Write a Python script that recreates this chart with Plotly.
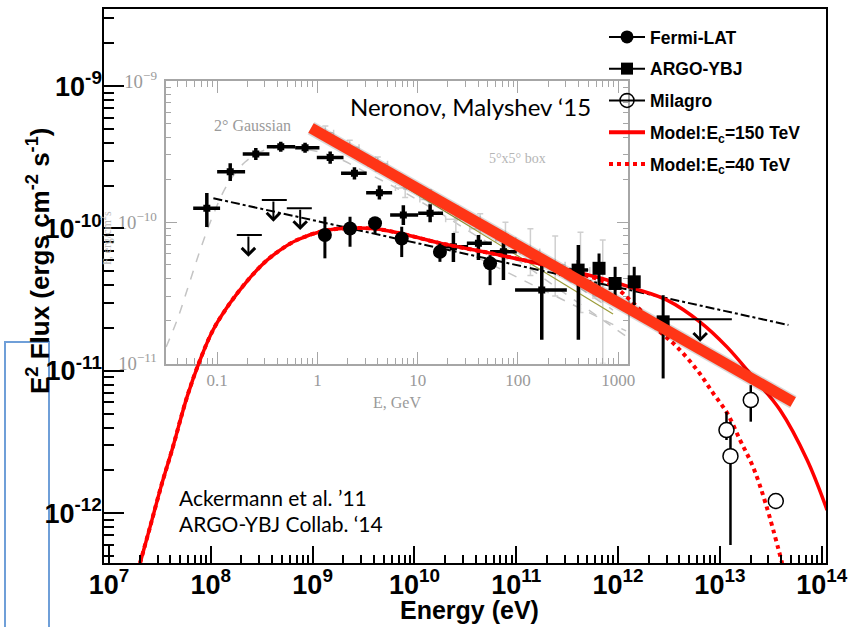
import plotly.graph_objects as go
import numpy as np

W, H = 854, 627

# ---------------- main-panel data (E in eV, E^2 F in erg cm^-2 s^-1) ----------------
fermi_E = [1.32e9, 2.33e9, 4.10e9, 7.5e9, 1.78e10, 5.53e10]
fermi_F = [9.0e-11, 1.0e-10, 1.09e-10, 8.5e-11, 6.85e-11, 5.69e-11]
fermi_Fhi = [1.21e-10, 1.21e-10, 1.20e-10, 1.03e-10, 7.85e-11, 6.5e-11]
fermi_Flo = [6.17e-11, 7.45e-11, 9.2e-11, 6.3e-11, 5.83e-11, 4.0e-11]

argo_E = [4.05e11, 6.5e11, 9.35e11, 1.44e12, 2.77e12]
argo_F = [5.1e-11, 5.25e-11, 4.11e-11, 4.22e-11, 2.21e-11]
argo_Fhi = [6.0e-11, 6.68e-11, 5.38e-11, 5.38e-11, 3.4e-11]
argo_Flo = [4.0e-11, 3.69e-11, 3.14e-11, 2.9e-11, 8.85e-12]

milagro_E = [1.16e13, 1.27e13, 2.01e13, 3.54e13]
milagro_F = [3.84e-12, 2.52e-12, 6.24e-12, 1.22e-12]
milagro_Fhi = [5.16e-12, 4.4e-12, 7.94e-12, 1.24e-12]
milagro_Flo = [3.27e-12, 5.98e-13, 4.4e-12, 1.09e-12]

ul_E = [6.4e12]
ul_F = [2.30e-11]
ul_Elo = [2.22e12]
ul_Ehi = [1.31e13]
ul_tip = [1.6e-11]

model150_E = [2.018e7, 2.529e7, 3.319e7, 4.159e7, 5.834e7, 7.834e7, 1.052e8, 1.545e8,
              2.317e8, 3.404e8, 4.786e8, 7.031e8, 1.265e9, 2.328e9, 4.295e9, 7.727e9,
              1.782e10, 5.534e10, 2.148e11, 6.653e11, 1.403e12, 3.027e12, 6.397e12,
              1.178e13, 2.118e13, 3.899e13, 7.194e13, 1.130e14]
model150_F = [4.467e-13, 8.0e-13, 1.629e-12, 2.780e-12, 6.546e-12, 1.191e-11, 1.936e-11,
              2.992e-11, 4.345e-11, 5.808e-11, 7.047e-11, 8.298e-11, 9.594e-11, 1.007e-10,
              9.908e-11, 9.141e-11, 7.889e-11, 6.714e-11, 5.445e-11, 4.487e-11, 3.811e-11,
              3.141e-11, 2.203e-11, 1.469e-11, 9.036e-12, 5.309e-12, 2.366e-12, 1.052e-12]

model40_E = [2.018e7, 2.529e7, 3.319e7, 4.159e7, 5.834e7, 7.834e7, 1.052e8, 1.545e8,
             2.317e8, 3.404e8, 4.786e8, 7.031e8, 1.265e9, 2.328e9, 4.295e9, 7.727e9,
             1.782e10, 5.534e10, 2.148e11, 6.653e11, 9.354e11, 1.312e12, 1.841e12,
             2.415e12, 3.802e12, 5.970e12, 8.570e12, 1.178e13, 1.578e13, 2.118e13,
             2.844e13, 4.083e13]
model40_F = [4.467e-13, 8.0e-13, 1.629e-12, 2.780e-12, 6.546e-12, 1.191e-11, 1.936e-11,
             2.992e-11, 4.345e-11, 5.808e-11, 7.047e-11, 8.298e-11, 9.594e-11, 1.007e-10,
             9.908e-11, 9.141e-11, 7.889e-11, 6.714e-11, 5.445e-11, 4.345e-11, 3.873e-11,
             3.141e-11, 2.466e-11, 1.968e-11, 1.469e-11, 1.014e-11, 6.982e-12, 5.058e-12,
             3.266e-12, 2.113e-12, 1.143e-12, 4.467e-13]

dashdot_E = [1.06e8, 4.71e13]
dashdot_F = [1.63e-10, 2.10e-11]

powerlaw_E = [9.64e8, 5.24e13]
powerlaw_F = [5.07e-10, 6.04e-12]

# tick labels of the main axes
x_tickvals = [1e7, 1e8, 1e9, 1e10, 1e11, 1e12, 1e13, 1e14]
x_ticktext = ["10<sup>7</sup>", "10<sup>8</sup>", "10<sup>9</sup>", "10<sup>10</sup>", "10<sup>11</sup>",
              "10<sup>12</sup>", "10<sup>13</sup>", "10<sup>14</sup>"]
y_tickvals = [1e-12, 1e-11, 1e-10, 1e-9]
y_ticktext = ["10<sup>-12</sup>", "10<sup>-11</sup>", "10<sup>-10</sup>", "10<sup>-9</sup>"]

# ---------------- inset data (E in GeV, F in erg/cm^2 s) ----------------
nm_E = [0.0789, 0.135, 0.243, 0.431, 0.753, 1.34, 2.34, 4.15, 7.19, 13.3, 22.7, 40.3, 71.6, 172.6, 400]
nm_F = [1.256e-10, 2.28e-10, 3.04e-10, 3.43e-10, 3.37e-10, 2.87e-10, 2.22e-10, 1.62e-10,
        1.125e-10, 1.156e-10, 6.71e-11, 7.1e-11, 6.19e-11, 3.31e-11, 4.59e-11]
nm_Elo = [0.0577, 0.100, 0.180, 0.313, 0.600, 0.986, 1.72, 3.06, 5.31, 10.1, 16.7, 30.9, 52.7, 93.5, 300]
nm_Ehi = [0.107, 0.190, 0.332, 0.600, 1.047, 1.82, 3.10, 5.56, 10.1, 17.9, 31.8, 54.8, 97.3, 307, 500]
nm_Fhi = [1.61e-10, 2.62e-10, 3.36e-10, 3.72e-10, 3.66e-10, 3.17e-10, 2.45e-10, 1.82e-10,
          1.32e-10, 1.34e-10, 8.39e-11, 8.13e-11, 7.13e-11, 4.98e-11, 6.9e-11]
nm_Flo = [9.25e-11, 1.96e-10, 2.76e-10, 3.15e-10, 3.10e-10, 2.60e-10, 2.01e-10, 1.45e-10,
          9.56e-11, 9.98e-11, 5.24e-11, 5.41e-11, 3.9e-11, 1.47e-11, 1.47e-11]

iul_E = [0.205, 0.364, 0.673]
iul_F = [8.13e-11, 1.436e-10, 1.256e-10]
iul_Elo = [0.157, 0.279, 0.495]
iul_Ehi = [0.279, 0.495, 0.879]
iul_tip = [5.7e-11, 1.01e-10, 8.81e-11]

box_pts_E = [1.2, 2.1, 4.0, 7.5, 13, 24, 42, 75, 133, 235, 420, 700]
box_pts_F = [4.3e-10, 3.4e-10, 2.6e-10, 1.75e-10, 1.45e-10, 1.05e-10, 9.0e-11, 7.5e-11, 6.2e-11, 5.0e-11, 4.6e-11, 3.0e-11]
box_pts_Fhi = [4.8e-10, 3.8e-10, 2.9e-10, 2.0e-10, 1.7e-10, 1.3e-10, 1.15e-10, 1.0e-10, 9.0e-11, 8.0e-11, 8.5e-11, 7.5e-11]
box_pts_Flo = [3.9e-10, 3.05e-10, 2.3e-10, 1.5e-10, 1.2e-10, 8.5e-11, 7.0e-11, 5.5e-11, 4.2e-11, 3.0e-11, 2.3e-11, 1.0e-11]
box_pts_Elo = [1.0, 1.7, 3.2, 6.0, 10.5, 19, 33, 60, 105, 185, 330, 560]
box_pts_Ehi = [1.45, 2.6, 5.0, 9.2, 16, 30, 52, 95, 165, 295, 520, 850]

gauss_E = [0.0310, 0.0399, 0.0502, 0.0678, 0.0912, 0.126, 0.190, 0.301, 0.477, 0.845,
           1.50, 2.99, 6.68, 16.7, 41.9, 105, 263, 659, 1253]
gauss_F = [1.31e-11, 2.03e-11, 3.31e-11, 6.37e-11, 1.125e-10, 1.84e-10, 2.67e-10, 3.25e-10,
           3.41e-10, 3.25e-10, 2.90e-10, 2.27e-10, 1.69e-10, 1.16e-10, 7.73e-11, 5.24e-11,
           3.31e-11, 2.10e-11, 1.52e-11]
box_model_E = [1.016, 6.68, 33.3, 166, 887]
box_model_F = [4.65e-10, 2.06e-10, 1.07e-10, 5.24e-11, 2.39e-11]
low_model_E = [38.2, 1197]
low_model_F = [5.68e-11, 1.70e-11]
fit_E = [0.948, 887]
fit_F = [4.35e-10, 2.24e-11]


def px_x(p):
    return p / W


def px_y(p):
    return 1 - p / H


def errs(v, hi, lo):
    v = np.array(v); hi = np.array(hi); lo = np.array(lo)
    return list(hi - v), list(v - lo)


fig = go.Figure()

SANS = "Liberation Sans"
SERIF = "Liberation Serif"
GRAY = "#a6a6a6"
GRAYTXT = "#9a9a9a"

# ---------------- inset traces (axes x / y, drawn first) ----------------
fig.add_trace(go.Scatter(x=gauss_E, y=gauss_F, mode="lines", line=dict(color="#c4c4c4", width=1.5, dash="dash"),
                         xaxis="x", yaxis="y", showlegend=False, line_shape="spline"))
fig.add_trace(go.Scatter(x=box_model_E, y=box_model_F, mode="lines", line=dict(color="#c4c4c4", width=1.5, dash="dash"),
                         xaxis="x", yaxis="y", showlegend=False))
fig.add_trace(go.Scatter(x=low_model_E, y=low_model_F, mode="lines", line=dict(color="#c4c4c4", width=1.5, dash="dash"),
                         xaxis="x", yaxis="y", showlegend=False))
ehi, elo = errs(box_pts_F, box_pts_Fhi, box_pts_Flo)
xhi, xlo = errs(box_pts_E, box_pts_Ehi, box_pts_Elo)
fig.add_trace(go.Scatter(x=box_pts_E, y=box_pts_F, mode="markers",
                         marker=dict(symbol="square", size=4, color="#cfcfcf"),
                         error_y=dict(type="data", array=ehi, arrayminus=elo, color="#cfcfcf", thickness=1.5, width=3),
                         error_x=dict(type="data", array=xhi, arrayminus=xlo, color="#cfcfcf", thickness=1.5, width=3),
                         xaxis="x", yaxis="y", showlegend=False))
fig.add_trace(go.Scatter(x=fit_E, y=fit_F, mode="lines", line=dict(color="#9c9c3a", width=1.2),
                         xaxis="x", yaxis="y", showlegend=False))
ehi, elo = errs(nm_F, nm_Fhi, nm_Flo)
xhi, xlo = errs(nm_E, nm_Ehi, nm_Elo)
fig.add_trace(go.Scatter(x=nm_E, y=nm_F, mode="markers",
                         marker=dict(symbol="square", size=7, color="black"),
                         error_y=dict(type="data", array=ehi, arrayminus=elo, color="black", thickness=3.5, width=0),
                         error_x=dict(type="data", array=xhi, arrayminus=xlo, color="black", thickness=3.5, width=0),
                         xaxis="x", yaxis="y", showlegend=False))
xhi, xlo = errs(iul_E, iul_Ehi, iul_Elo)
fig.add_trace(go.Scatter(x=iul_E, y=iul_F, mode="markers", marker=dict(size=1, color="black", opacity=0),
                         error_x=dict(type="data", array=xhi, arrayminus=xlo, color="black", thickness=2, width=0),
                         xaxis="x", yaxis="y", showlegend=False))

# ---------------- main traces (axes x2 / y2, drawn on top) ----------------
fig.add_trace(go.Scatter(x=dashdot_E, y=dashdot_F, mode="lines", line=dict(color="black", width=2, dash="dashdot"),
                         xaxis="x2", yaxis="y2", showlegend=False))
fig.add_trace(go.Scatter(x=model150_E, y=model150_F, mode="lines", line=dict(color="#ff0000", width=3.5, shape="spline"),
                         xaxis="x2", yaxis="y2", showlegend=False))
fig.add_trace(go.Scatter(x=model40_E, y=model40_F, mode="lines", line=dict(color="#ff0000", width=4, dash="dot", shape="spline"),
                         xaxis="x2", yaxis="y2", showlegend=False))
ehi, elo = errs(fermi_F, fermi_Fhi, fermi_Flo)
fig.add_trace(go.Scatter(x=fermi_E, y=fermi_F, mode="markers", marker=dict(symbol="circle", size=14, color="black"),
                         error_y=dict(type="data", array=ehi, arrayminus=elo, color="black", thickness=3, width=0),
                         xaxis="x2", yaxis="y2", showlegend=False))
ehi, elo = errs(argo_F, argo_Fhi, argo_Flo)
fig.add_trace(go.Scatter(x=argo_E, y=argo_F, mode="markers", marker=dict(symbol="square", size=13, color="black"),
                         error_y=dict(type="data", array=ehi, arrayminus=elo, color="black", thickness=3, width=0),
                         xaxis="x2", yaxis="y2", showlegend=False))
xhi, xlo = errs(ul_E, ul_Ehi, ul_Elo)
fig.add_trace(go.Scatter(x=ul_E, y=ul_F, mode="markers", marker=dict(size=1, color="black", opacity=0),
                         error_x=dict(type="data", array=xhi, arrayminus=xlo, color="black", thickness=2, width=0),
                         xaxis="x2", yaxis="y2", showlegend=False))
ehi, elo = errs(milagro_F, milagro_Fhi, milagro_Flo)
fig.add_trace(go.Scatter(x=milagro_E, y=milagro_F, mode="markers",
                         marker=dict(symbol="circle", size=15, color="white", line=dict(color="black", width=1.5)),
                         error_y=dict(type="data", array=ehi, arrayminus=elo, color="black", thickness=2.5, width=0),
                         xaxis="x2", yaxis="y2", showlegend=False))
# thick power-law line with soft shadow
fig.add_trace(go.Scatter(x=powerlaw_E, y=powerlaw_F, mode="lines", line=dict(color="rgba(0,0,0,0.15)", width=14),
                         xaxis="x2", yaxis="y2", showlegend=False))
fig.add_trace(go.Scatter(x=powerlaw_E, y=powerlaw_F, mode="lines", line=dict(color="#ff3516", width=11),
                         xaxis="x2", yaxis="y2", showlegend=False))

# ---------------- legend entries ----------------
leg = [
    ("Fermi-LAT", dict(mode="lines+markers", marker=dict(symbol="circle", size=13, color="black"),
                       line=dict(color="black", width=2))),
    ("ARGO-YBJ", dict(mode="lines+markers", marker=dict(symbol="square", size=12, color="black"),
                      line=dict(color="black", width=2))),
    ("Milagro", dict(mode="lines+markers",
                     marker=dict(symbol="circle-open", size=14, color="black", line=dict(width=1.5)),
                     line=dict(color="black", width=2))),
    ("Model:E<sub>c</sub>=150 TeV", dict(mode="lines", line=dict(color="#ff0000", width=4))),
    ("Model:E<sub>c</sub>=40 TeV", dict(mode="lines", line=dict(color="#ff0000", width=4, dash="dot"))),
]
for i, (name, kw) in enumerate(leg):
    fig.add_trace(go.Scatter(x=[None], y=[None], name=name, legendgroup=f"g{i}", xaxis="x2", yaxis="y2", **kw))

# ---------------- annotations ----------------
ann = []
# arrows for upper limits
for e, f, t in zip(iul_E, iul_F, iul_tip):
    ann.append(dict(x=np.log10(e), y=np.log10(t), ax=np.log10(e), ay=np.log10(f), xref="x", yref="y",
                    axref="x", ayref="y", showarrow=True, arrowhead=4, arrowsize=1.3, arrowwidth=2,
                    arrowcolor="black", text=""))
for e, f, t in zip(ul_E, ul_F, ul_tip):
    ann.append(dict(x=np.log10(e), y=np.log10(t), ax=np.log10(e), ay=np.log10(f), xref="x2", yref="y2",
                    axref="x2", ayref="y2", showarrow=True, arrowhead=4, arrowsize=1.3, arrowwidth=2,
                    arrowcolor="black", text=""))


def txt(text, x, y, size, family, color="black", anchor="center", angle=0, weight="normal"):
    return dict(text=text, x=px_x(x), y=px_y(y), xref="paper", yref="paper", xanchor=anchor, yanchor="middle",
                textangle=angle, showarrow=False, font=dict(family=family, size=size, color=color, weight=weight))


ann += [
    txt("E<sup>2</sup> Flux (ergs cm<sup>-2</sup> s<sup>-1</sup>)", 38, 261, 26, SANS, angle=-90, weight="bold"),
    txt("Energy (eV)", 470, 610, 25, SANS, weight="bold"),
    txt("Ackermann et al. ’11", 177, 497, 21, "Lato", anchor="left"),
    txt("ARGO-YBJ Collab. ‘14", 177, 523.5, 21, "Lato", anchor="left"),
    txt("Neronov, Malyshev ‘15", 348, 107, 24, "Lato", anchor="left"),
    txt("2° Gaussian", 252, 125, 16, SERIF, color=GRAYTXT),
    txt("5°x5° box", 517, 158, 14, SERIF, color="#b5b5b5"),
    txt("E, GeV", 397, 403, 16, SERIF, color=GRAYTXT),
    txt("F, erg/cm<sup>2</sup>s", 106, 238, 12, SERIF, color="#b8b8b8", angle=-90),
]

TICKFONT = dict(family=SANS, size=27, color="black", weight="bold")

fig.update_layout(
    width=W, height=H,
    margin=dict(l=0, r=0, t=0, b=0, autoexpand=False),
    paper_bgcolor="white", plot_bgcolor="rgba(0,0,0,0)",
    annotations=ann,
    # inset axes
    xaxis=dict(type="log", domain=[px_x(165.7), px_x(628.3)], range=[-1.513, 3.10], anchor="y", automargin=False,
               showline=True, linecolor=GRAY, linewidth=1.5, mirror="ticks", showgrid=False, zeroline=False,
               ticks="inside", ticklen=12, tickcolor=GRAY, tickwidth=1.2, dtick=1, exponentformat="none",
               tickfont=dict(family=SERIF, size=17, color=GRAYTXT),
               minor=dict(ticks="inside", ticklen=6, tickcolor=GRAY, tickwidth=1.2, dtick="D1", showgrid=False)),
    yaxis=dict(type="log", domain=[px_y(363.5), px_y(81)], range=[-11, -9], anchor="x", automargin=False,
               showline=True, linecolor=GRAY, linewidth=1.5, mirror="ticks", showgrid=False, zeroline=False,
               ticks="inside", ticklen=12, tickcolor=GRAY, tickwidth=1.2, dtick=1, exponentformat="power",
               showexponent="all", tickfont=dict(family=SERIF, size=15, color=GRAYTXT), ticklabelstandoff=4,
               minor=dict(ticks="inside", ticklen=6, tickcolor=GRAY, tickwidth=1.2, dtick="D1", showgrid=False)),
    # main axes
    xaxis2=dict(type="log", domain=[px_x(104.3), px_x(826)], range=[6.954, 14.042], anchor="y2", automargin=False,
                showline=True, linecolor="black", linewidth=2, mirror=True, showgrid=False, zeroline=False,
                ticks="inside", ticklen=17, tickcolor="black", tickwidth=1.5,
                tickmode="array", tickvals=x_tickvals, ticktext=x_ticktext, tickfont=TICKFONT, ticklabelstandoff=-4,
                minor=dict(ticks="inside", ticklen=8, tickcolor="black", tickwidth=1.5, dtick="D1", showgrid=False)),
    yaxis2=dict(type="log", domain=[px_y(563.3), px_y(9)], range=[-12.351, -8.459], anchor="x2", automargin=False,
                showline=True, linecolor="black", linewidth=2, mirror=True, showgrid=False, zeroline=False,
                ticks="inside", ticklen=20, tickcolor="black", tickwidth=1.5,
                tickmode="array", tickvals=y_tickvals, ticktext=y_ticktext, tickfont=TICKFONT, ticklabelstandoff=-5,
                minor=dict(ticks="inside", ticklen=10, tickcolor="black", tickwidth=1.5, dtick="D1", showgrid=False)),
    legend=dict(x=px_x(604), y=px_y(19), xanchor="left", yanchor="top", bgcolor="rgba(0,0,0,0)",
                font=dict(family=SANS, size=17.5, color="black", weight="bold"), itemwidth=36,
                tracegroupgap=6, traceorder="grouped"),
    shapes=[dict(type="rect", xref="paper", yref="paper", x0=px_x(5), x1=px_x(49), y0=px_y(342), y1=px_y(660),
                 line=dict(color="#6f9fd8", width=2), layer="below")],
)

fig.write_html("out.html")
